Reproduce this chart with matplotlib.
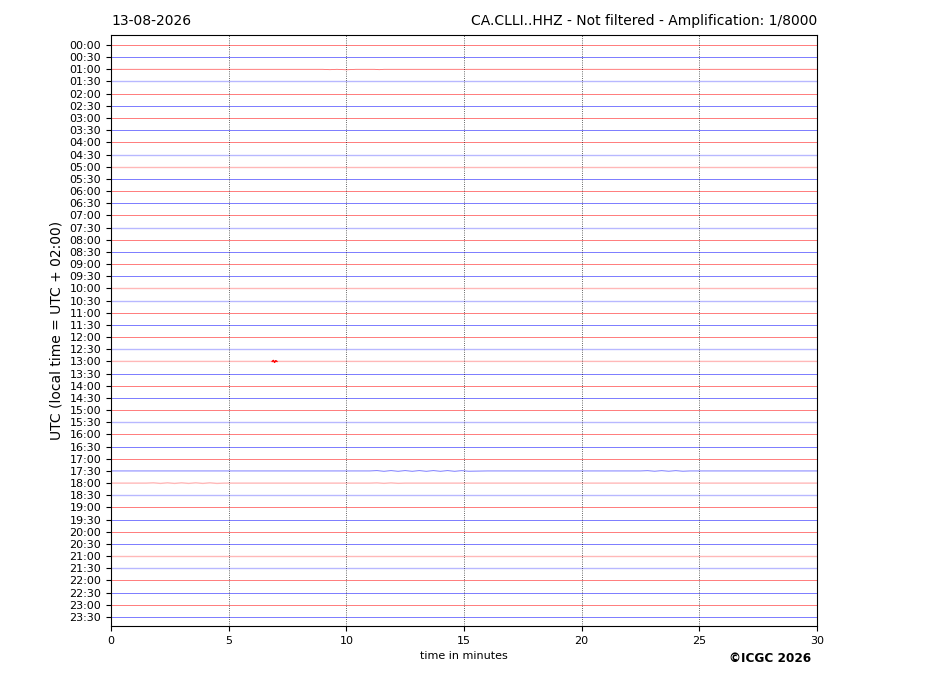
import matplotlib
matplotlib.use("Agg")
import matplotlib.pyplot as plt

# ---- data ----
row_labels = ["%02d:%02d" % (h, m) for h in range(24) for m in (0, 30)]
trace_colors = ["red", "blue"]          # alternating per row
# rows whose trace looks noisier (lighter / wider) in the reference
noisy_rows = ["01:30", "04:30", "05:00", "10:00", "10:30", "13:00", "15:30",
              "18:00", "18:30", "21:00", "21:30", "07:30", "12:30"]
# small visible events: row -> list of (minute, offset in row units)
events = {
    "01:00": [(9.0, 0.0), (9.3, -0.03), (9.6, 0.0), (10.0, -0.04), (10.4, 0.0),
              (11.2, 0.0), (11.4, -0.03), (11.6, 0.0)],
    "13:00": [(6.85, 0.0), (6.9, 0.08), (6.95, -0.08), (7.0, 0.06), (7.05, 0.0)],
    "17:30": [(11.0, 0.0), (11.3, 0.025), (11.6, -0.025), (11.9, 0.025), (12.2, -0.025),
              (12.5, 0.025), (12.8, -0.025), (13.1, 0.025), (13.4, -0.025), (13.7, 0.025),
              (14.0, -0.025), (14.3, 0.025), (14.6, -0.025), (14.9, 0.02), (15.2, -0.02),
              (16.0, 0.0), (22.5, 0.0), (22.8, 0.02), (23.1, -0.02), (23.4, 0.02),
              (23.7, -0.02), (24.0, 0.02), (24.3, -0.02), (24.6, 0.0)],
    "18:00": [(1.5, 0.0), (1.8, 0.025), (2.1, -0.025), (2.4, 0.025), (2.7, -0.025),
              (3.0, 0.025), (3.3, -0.025), (3.6, 0.025), (3.9, -0.025), (4.2, 0.025),
              (4.5, -0.025), (4.8, 0.0), (11.0, 0.0), (11.3, 0.02), (11.6, -0.02),
              (11.9, 0.02), (12.2, -0.02), (12.5, 0.0)],
}
x_ticks = [0, 5, 10, 15, 20, 25, 30]
date_text = "13-08-2026"
station_text = "CA.CLLI..HHZ - Not filtered - Amplification: 1/8000"

# ---- plot ----
fig = plt.figure(figsize=(9.27, 6.96), dpi=100)
ax = fig.add_axes([111/927, 1-626/696, (817-111)/927, (626-35)/696])

for i, lab in enumerate(row_labels):
    col = trace_colors[i % 2]
    base = -i
    xs = [0.0]
    ys = [base]
    for t, off in events.get(lab, []):
        xs.append(t)
        ys.append(base + off)
    xs.append(30.0)
    ys.append(base)
    if lab in noisy_rows:
        ax.plot(xs, ys, color=col, lw=1.0, alpha=0.28, solid_capstyle="butt")
    else:
        ax.plot(xs, ys, color=col, lw=0.6, alpha=0.6, solid_capstyle="butt")
    if lab == "13:00":
        ev = events[lab]
        ax.plot([t for t, _ in ev], [base + o for _, o in ev], color=col, lw=1.0)

for xv in x_ticks[1:-1]:
    ax.axvline(xv, color="black", ls=":", lw=0.6, alpha=0.8)

ax.set_xlim(0, 30)
ax.set_ylim(-len(row_labels) + 1 - 0.74, 0.82)
ax.set_xticks(x_ticks)
ax.set_xticklabels([str(v) for v in x_ticks], fontsize=8)
ax.set_yticks([-i for i in range(len(row_labels))])
ax.set_yticklabels(row_labels, fontsize=8)
ax.set_xlabel("time in minutes", fontsize=8)
ax.set_ylabel("UTC (local time = UTC + 02:00)", fontsize=10)
ax.set_title(date_text, loc="left", fontsize=10, pad=7)
ax.set_title(station_text, loc="right", fontsize=10, pad=7)

fig.text(811/927, 1-658/696, "\u00a9ICGC 2026", ha="right", va="center",
         fontsize=8.7, fontweight="bold")

fig.savefig("out.png", dpi=100)
